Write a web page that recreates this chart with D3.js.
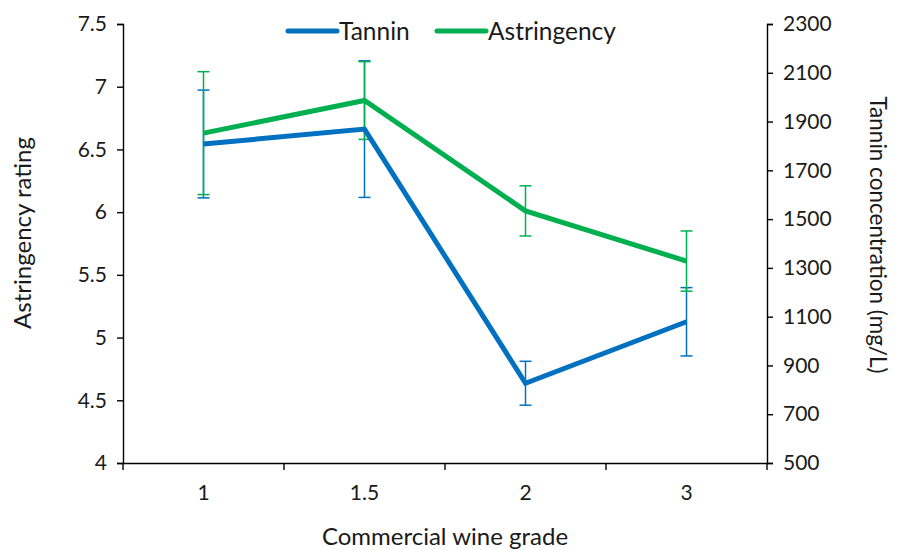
<!DOCTYPE html>
<html>
<head>
    <meta charset="utf-8" />
    <title>Tannin and astringency by wine grade</title>
    <script src="https://cdn.jsdelivr.net/npm/d3@7"></script>
    <style>
        body { margin: 0; background: #fff; }
        svg text { font-family: Lato, "Open Sans", sans-serif; fill: #1a1a1a; }
        .axis path, .axis line { stroke: #000; stroke-width: 1.4; }
    </style>
</head>
<body>
    <svg class="chart" width="903" height="550"></svg>

    <script>
    var grades = ["1", "1.5", "2", "3"];
    var astringency = [6.63, 6.89, 6.01, 5.61];
    var astringencyErr = [0.49, 0.31, 0.20, 0.24];
    var tannin = [1808, 1869, 827, 1079];
    var tanninErr = [221, 280, 90, 140];
    var leftTicks = [4, 4.5, 5, 5.5, 6, 6.5, 7, 7.5];
    var rightTicks = [500, 700, 900, 1100, 1300, 1500, 1700, 1900, 2100, 2300];

    var blue = "#0070c0", green = "#00b050";
    var plotLeft = 123, plotRight = 767, plotTop = 24, plotBottom = 463;

    var svg = d3.select(".chart");

    var x = d3.scaleBand().domain(grades).range([plotLeft, plotRight]);
    var yL = d3.scaleLinear().domain([4, 7.5]).range([plotBottom, plotTop]);
    var yR = d3.scaleLinear().domain([500, 2300]).range([plotBottom, plotTop]);

    // axes
    svg.append("g").attr("class", "axis")
        .attr("transform", "translate(" + plotLeft + ",0)")
        .call(d3.axisLeft(yL).tickValues(leftTicks).tickSize(6).tickPadding(10)
            .tickFormat(function (d) { return d; }))
        .call(function (g) { g.selectAll("text").style("font-size", "21px"); });

    svg.append("g").attr("class", "axis")
        .attr("transform", "translate(" + plotRight + ",0)")
        .call(d3.axisRight(yR).tickValues(rightTicks).tickSize(6).tickPadding(10)
            .tickFormat(d3.format("d")))
        .call(function (g) { g.selectAll("text").style("font-size", "21px"); });

    var xAxis = svg.append("g").attr("class", "axis")
        .attr("transform", "translate(0," + plotBottom + ")")
        .call(d3.axisBottom(x).tickSize(0).tickPadding(22))
        .call(function (g) { g.selectAll("text").style("font-size", "21px"); });
    // tick marks between categories
    var bounds = [plotLeft].concat(grades.map(function (g) { return x(g) + x.bandwidth(); }));
    xAxis.selectAll(".sep").data(bounds).enter().append("line")
        .attr("class", "sep")
        .attr("x1", function (d) { return d; }).attr("x2", function (d) { return d; })
        .attr("y1", 0).attr("y2", 7);

    function cx(i) { return x(grades[i]) + x.bandwidth() / 2; }

    // error bars
    function errorBars(vals, errs, scale, color) {
        var g = svg.append("g").attr("stroke", color).attr("stroke-width", 1.5);
        vals.forEach(function (v, i) {
            var px = cx(i);
            g.append("line").attr("x1", px).attr("x2", px)
                .attr("y1", scale(v - errs[i])).attr("y2", scale(v + errs[i]));
            [v - errs[i], v + errs[i]].forEach(function (e) {
                g.append("line").attr("x1", px - 6).attr("x2", px + 6)
                    .attr("y1", scale(e)).attr("y2", scale(e));
            });
        });
    }
    errorBars(tannin, tanninErr, yR, blue);
    errorBars(astringency, astringencyErr, yL, green);

    // lines
    var lineT = d3.line().x(function (d, i) { return cx(i); }).y(function (d) { return yR(d); });
    var lineA = d3.line().x(function (d, i) { return cx(i); }).y(function (d) { return yL(d); });
    svg.append("path").datum(tannin).attr("d", lineT)
        .attr("fill", "none").attr("stroke", blue).attr("stroke-width", 5);
    svg.append("path").datum(astringency).attr("d", lineA)
        .attr("fill", "none").attr("stroke", green).attr("stroke-width", 5);

    // legend
    var legend = [{ name: "Tannin", color: blue, x: 288 }, { name: "Astringency", color: green, x: 437 }];
    var lg = svg.selectAll(".legend").data(legend).enter().append("g")
        .attr("class", "legend")
        .attr("transform", function (d) { return "translate(" + d.x + ",31)"; });
    lg.append("line").attr("x1", 0).attr("x2", 49)
        .attr("stroke", function (d) { return d.color; }).attr("stroke-width", 5)
        .attr("stroke-linecap", "round");
    lg.append("text").attr("x", 51).attr("dy", "0.35em")
        .style("font-size", "24.5px").text(function (d) { return d.name; });

    // axis titles
    svg.append("text").attr("transform", "translate(31,233) rotate(-90)")
        .attr("text-anchor", "middle").style("font-size", "24px").text("Astringency rating");
    svg.append("text").attr("transform", "translate(870,235) rotate(90)")
        .attr("text-anchor", "middle").style("font-size", "22.5px").text("Tannin concentration (mg/L)");
    svg.append("text").attr("x", 445).attr("y", 545)
        .attr("text-anchor", "middle").style("font-size", "24px").text("Commercial wine grade");
    </script>
</body>
</html>
